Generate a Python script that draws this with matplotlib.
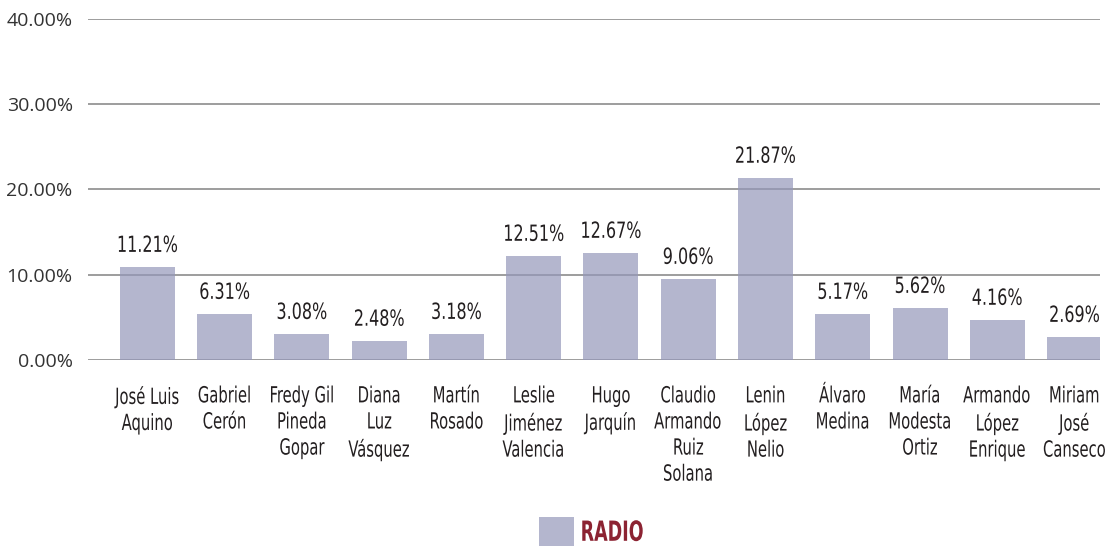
import matplotlib
matplotlib.use("Agg")
import matplotlib.pyplot as plt
from matplotlib import font_manager
from matplotlib.patches import Patch
from matplotlib.patheffects import AbstractPathEffect
from matplotlib.transforms import Affine2D
import numpy as np

# ---- data ----
categories = [
    "José Luis\nAquino", "Gabriel\nCerón", "Fredy Gil\nPineda\nGopar",
    "Diana\nLuz\nVásquez", "Martín\nRosado", "Leslie\nJiménez\nValencia",
    "Hugo\nJarquín", "Claudio\nArmando\nRuiz\nSolana", "Lenin\nLópez\nNelio",
    "Álvaro\nMedina", "María\nModesta\nOrtiz", "Armando\nLópez\nEnrique",
    "Miriam\nJosé\nCanseco",
]
bar_values = [10.9, 5.4, 3.05, 2.25, 3.05, 12.2, 12.55, 9.5, 21.35, 5.4, 6.1, 4.7, 2.7]
value_labels = ["11.21%", "6.31%", "3.08%", "2.48%", "3.18%", "12.51%", "12.67%",
                "9.06%", "21.87%", "5.17%", "5.62%", "4.16%", "2.69%"]
yticks = [0, 10, 20, 30, 40]
ytick_labels = ["0.00%", "10.00%", "20.00%", "30.00%", "40.00%"]
series_name = "RADIO"


class HSquash(AbstractPathEffect):
    """Horizontally compress glyph outlines (emulates a condensed face)."""
    def __init__(self, sx, center=True):
        super().__init__()
        self.sx = sx
        self.center = center

    def draw_path(self, renderer, gc, tpath, affine, rgbFace=None):
        cx = 0.0
        if self.center and len(tpath.vertices):
            ext = tpath.get_extents()
            cx = (ext.x0 + ext.x1) / 2
        t = Affine2D().translate(-cx, 0).scale(self.sx, 1).translate(cx, 0) + affine
        renderer.draw_path(gc, tpath, t, rgbFace)


# ---- fonts ----
names = {f.name for f in font_manager.fontManager.ttflist}
cond = dict(family="DejaVu Sans", stretch="condensed")
reg_family = "Open Sans" if "Open Sans" in names else "DejaVu Sans"

bar_color = (148/255, 151/255, 186/255)
text_col = "#231f20"

fig = plt.figure(figsize=(11.10, 5.49), dpi=100)
ax = fig.add_axes([88/1110, 1-360/549, (1100-88)/1110, (360-18.7)/549])

x = np.arange(len(categories))
ax.bar(x, bar_values, width=0.712, color=bar_color, alpha=0.7, zorder=3, linewidth=0)

ax.set_ylim(0, 40)
ax.set_xlim(-0.77, len(categories) - 1 + 0.33)
ax.set_yticks(yticks)
ax.set_yticklabels(ytick_labels, family=reg_family, fontsize=14, color="#333333")
ax.set_xticks(x)
xlabs = ax.set_xticklabels(categories, fontsize=16, color=text_col, linespacing=1.38,
                           va="top", **cond)
for t in xlabs:
    t.set_path_effects([HSquash(0.74)])
ax.tick_params(axis="x", length=0, pad=19)
ax.tick_params(axis="y", length=0, pad=11)
ax.yaxis.grid(True, color="#8c8c8c", linewidth=1.2, zorder=1)
ax.set_axisbelow(True)
for s in ax.spines.values():
    s.set_visible(False)

for xi, v, lab in zip(x, bar_values, value_labels):
    ann = ax.annotate(lab, (xi, v), xytext=(0, 8), textcoords="offset points",
                      ha="center", va="bottom", fontsize=16, color=text_col, **cond)
    ann.set_path_effects([HSquash(0.8)])

leg = fig.legend(handles=[Patch(facecolor=bar_color, alpha=0.7, linewidth=0)],
                 labels=[series_name], loc="center left",
                 bbox_to_anchor=(539/1110, 1-532/549),
                 frameon=False, fontsize=20, handlelength=1.25, handleheight=1.2,
                 handletextpad=0.25, borderpad=0, borderaxespad=0)
for t in leg.get_texts():
    t.set_color("#8c2332")
    t.set_fontweight("bold")
    t.set_family(cond["family"])
    t.set_stretch(cond["stretch"])
    t.set_path_effects([HSquash(0.7, center=False)])

fig.savefig("out.png", dpi=100)
